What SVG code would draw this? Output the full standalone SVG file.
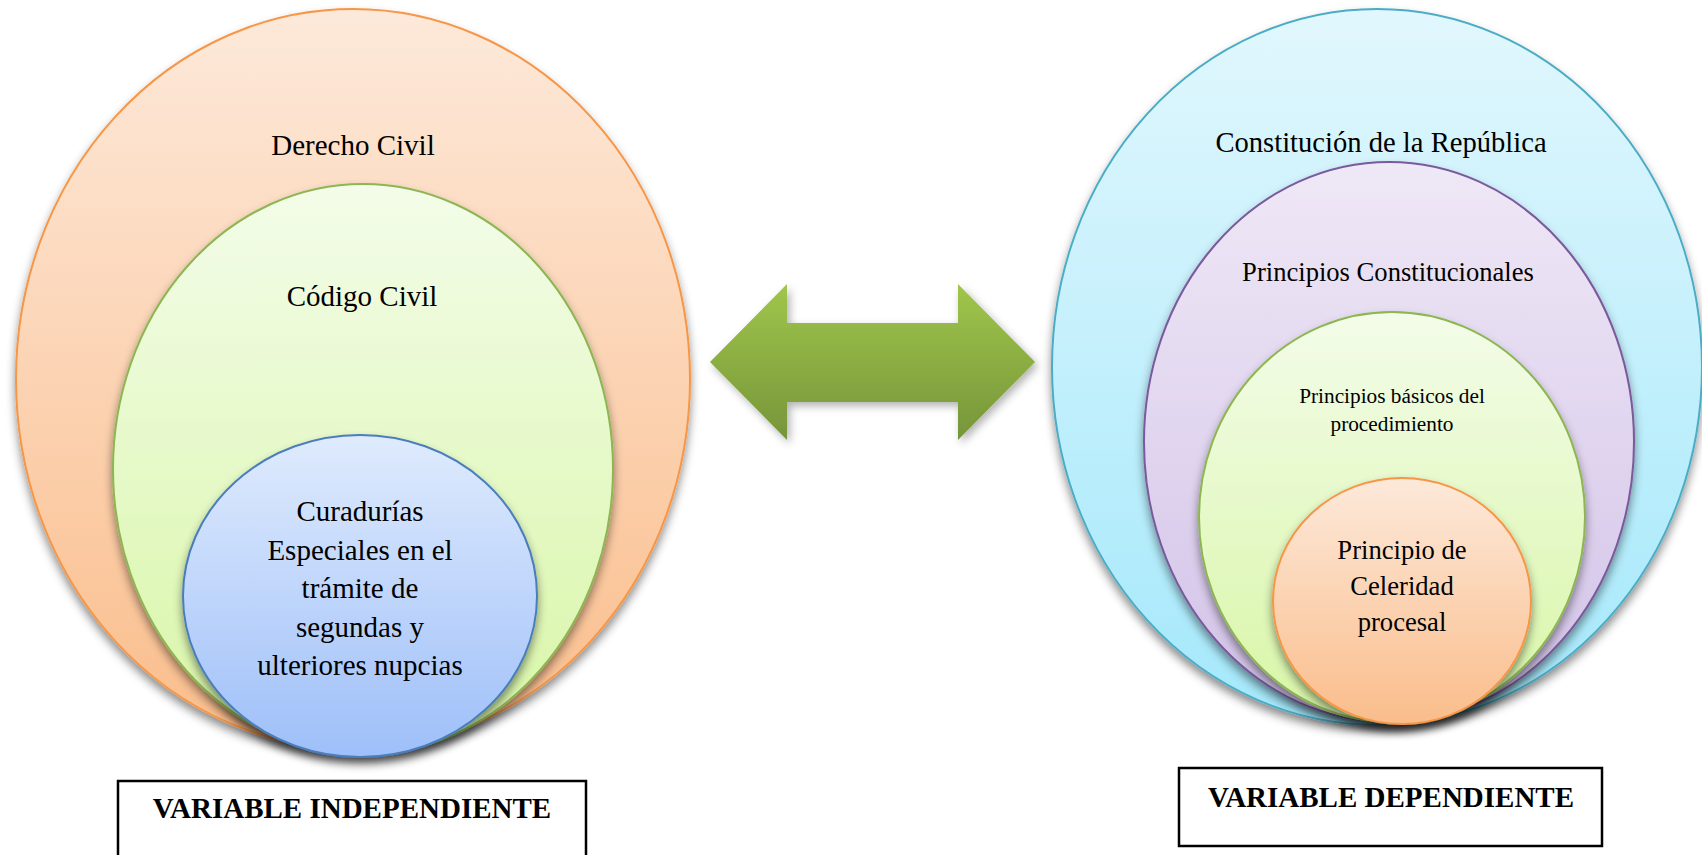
<svg xmlns="http://www.w3.org/2000/svg" width="1702" height="855" viewBox="0 0 1702 855">
<style>
.t{font-family:"Liberation Serif","Times New Roman",serif;fill:#000;text-anchor:middle}
.b{font-weight:bold}
.box{fill:#fff;stroke:#000;stroke-width:2.5}
.el{stroke-width:2}
</style>
<defs>
<linearGradient id="gOr" x1="0" y1="0" x2="0" y2="1"><stop offset="0" stop-color="#fde9da"/><stop offset="1" stop-color="#fabd8b"/></linearGradient>
<linearGradient id="gGr" x1="0" y1="0" x2="0" y2="1"><stop offset="0" stop-color="#f3fce9"/><stop offset="1" stop-color="#d8f6a6"/></linearGradient>
<linearGradient id="gBl" x1="0" y1="0" x2="0" y2="1"><stop offset="0" stop-color="#dfebfd"/><stop offset="1" stop-color="#9ebff9"/></linearGradient>
<linearGradient id="gCy" x1="0" y1="0" x2="0" y2="1"><stop offset="0" stop-color="#e1f7fd"/><stop offset="1" stop-color="#a4e8fb"/></linearGradient>
<linearGradient id="gPu" x1="0" y1="0" x2="0" y2="1"><stop offset="0" stop-color="#efe8f6"/><stop offset="1" stop-color="#d2c2e8"/></linearGradient>
<linearGradient id="gAr" x1="0" y1="0" x2="0" y2="1"><stop offset="0" stop-color="#a0c64b"/><stop offset="1" stop-color="#76953a"/></linearGradient>
<filter id="sh" x="-10%" y="-10%" width="120%" height="125%"><feDropShadow dx="0" dy="6" stdDeviation="5" flood-color="#000" flood-opacity="0.45"/></filter>
<filter id="sha" x="-10%" y="-10%" width="125%" height="130%"><feDropShadow dx="3" dy="4" stdDeviation="4" flood-color="#000" flood-opacity="0.3"/></filter>
</defs>

<g id="derecho-civil">
<ellipse class="el" cx="353" cy="379" rx="337" ry="370" fill="url(#gOr)" stroke="#f79646" filter="url(#sh)"/>
<text class="t" x="353" y="155" font-size="29">Derecho Civil</text>
</g>
<g id="codigo-civil">
<ellipse class="el" cx="363" cy="469" rx="250" ry="285" fill="url(#gGr)" stroke="#8db653" filter="url(#sh)"/>
<text class="t" x="362" y="306" font-size="29">Código Civil</text>
</g>
<g id="curadurias">
<ellipse class="el" cx="360" cy="596" rx="177" ry="161" fill="url(#gBl)" stroke="#4a7ebb" filter="url(#sh)"/>
<text class="t" font-size="29"><tspan x="360" y="521">Curadurías</tspan><tspan x="360" y="560">Especiales en el</tspan><tspan x="360" y="598">trámite de</tspan><tspan x="360" y="637">segundas y</tspan><tspan x="360" y="675">ulteriores nupcias</tspan></text>
</g>

<g id="constitucion">
<ellipse class="el" cx="1377" cy="367" rx="325" ry="358" fill="url(#gCy)" stroke="#4bacc6" filter="url(#sh)"/>
<text class="t" x="1381" y="152" font-size="28.6">Constitución de la República</text>
</g>
<g id="principios-constitucionales">
<ellipse class="el" cx="1389" cy="442" rx="245" ry="280" fill="url(#gPu)" stroke="#7a5a9c" filter="url(#sh)"/>
<text class="t" x="1388" y="281" font-size="26.6">Principios Constitucionales</text>
</g>
<g id="principios-basicos">
<ellipse class="el" cx="1392" cy="517" rx="193" ry="205" fill="url(#gGr)" stroke="#8db653" filter="url(#sh)"/>
<text class="t" font-size="21.3"><tspan x="1392" y="403">Principios básicos del</tspan><tspan x="1392" y="431">procedimiento</tspan></text>
</g>
<g id="celeridad">
<ellipse class="el" cx="1402" cy="601" rx="129" ry="123" fill="url(#gOr)" stroke="#f79646" filter="url(#sh)"/>
<text class="t" font-size="26.6"><tspan x="1402" y="559">Principio de</tspan><tspan x="1402" y="595">Celeridad</tspan><tspan x="1402" y="631">procesal</tspan></text>
</g>

<g id="connectors">
<polygon points="710,362 787,284 787,323 958,323 958,284 1035,362 958,440 958,402 787,402 787,440" fill="url(#gAr)" filter="url(#sha)"/>
</g>

<g id="variable-independiente">
<rect class="box" x="118" y="781" width="468" height="90"/>
<text class="t b" x="352" y="818" font-size="29">VARIABLE INDEPENDIENTE</text>
</g>
<g id="variable-dependiente">
<rect class="box" x="1179" y="768" width="423" height="78"/>
<text class="t b" x="1391" y="807" font-size="29">VARIABLE DEPENDIENTE</text>
</g>
</svg>
